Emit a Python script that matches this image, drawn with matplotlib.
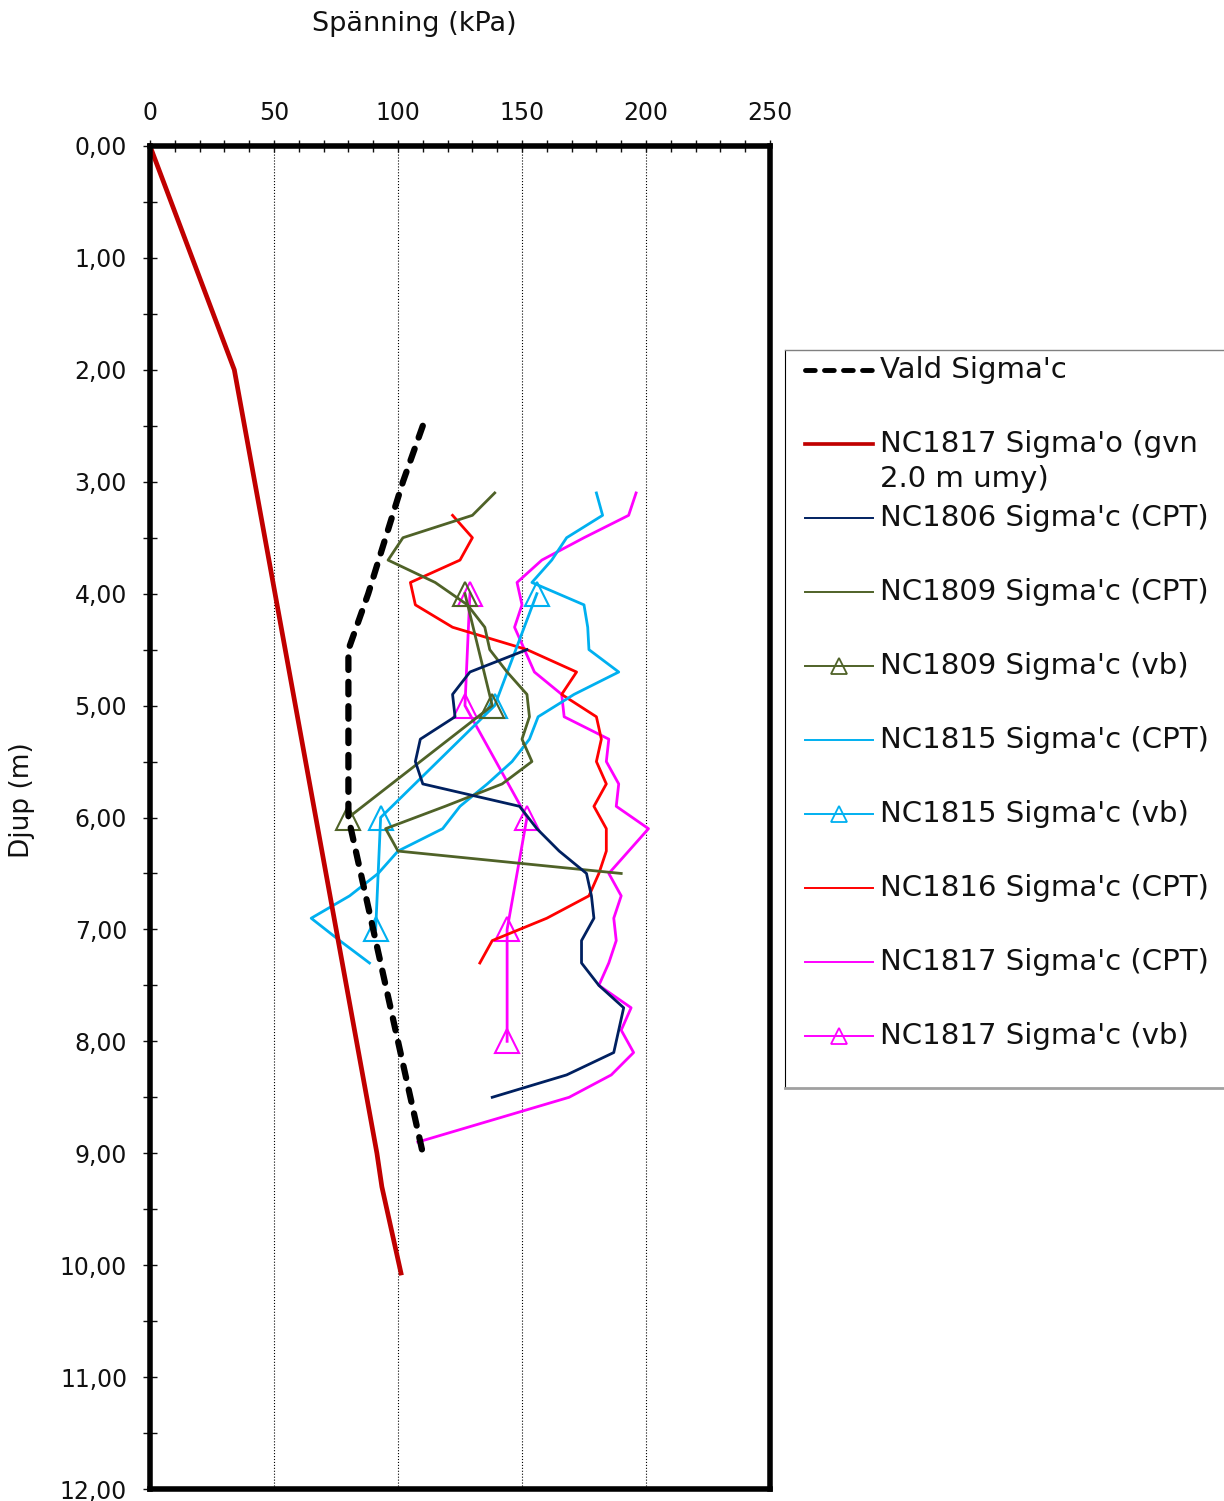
import matplotlib.pyplot as plt
from matplotlib.ticker import MultipleLocator, FuncFormatter

# depth (m) / stress (kPa) for each profile
vald_depth = [2.5, 3.0, 3.5, 4.0, 4.5, 5.0, 5.5, 6.0, 7.0, 8.0, 9.0]
vald_kpa = [110, 102, 95, 88, 80, 80, 80, 80, 90, 100, 110]

sigma_o_depth = [0.0, 2.0, 9.0, 9.3, 10.07]
sigma_o_kpa = [0, 34, 91.5, 93.5, 101.2]

nc1806_depth = [4.5, 4.7, 4.9, 5.1, 5.3, 5.5, 5.7, 5.9, 6.1, 6.3, 6.5,
                6.7, 6.9, 7.1, 7.3, 7.5, 7.7, 7.9, 8.1, 8.3, 8.5]
nc1806_kpa = [152, 129, 122, 123, 109, 107, 110, 149, 156, 165, 176,
              178, 179, 174, 174, 181, 191, 189, 187, 168, 138]

nc1809_depth = [3.1, 3.3, 3.5, 3.7, 3.9, 4.1, 4.3, 4.5, 4.7, 4.9, 5.1,
                5.3, 5.5, 5.7, 5.9, 6.1, 6.3, 6.5]
nc1809_kpa = [139, 130, 102, 96, 115, 128, 135, 137, 144, 152, 153,
              150, 154, 142, 119, 95, 100, 190]

nc1809_vb_depth = [4.0, 5.0, 6.0]
nc1809_vb_kpa = [127, 138, 80]

nc1815_depth = [3.1, 3.3, 3.5, 3.7, 3.9, 4.1, 4.3, 4.5, 4.7, 4.9, 5.1,
                5.3, 5.5, 5.7, 5.9, 6.1, 6.3, 6.5, 6.7, 6.9, 7.1, 7.3]
nc1815_kpa = [180, 182.5, 168, 162, 154, 175, 176.5, 177, 189, 171, 156.5,
              153, 146, 136, 125, 118, 100, 92, 80.5, 65, 76.5, 88.5]

nc1815_vb_depth = [4.0, 5.0, 6.0, 7.0]
nc1815_vb_kpa = [156, 139, 93, 91]

nc1816_depth = [3.3, 3.5, 3.7, 3.9, 4.1, 4.3, 4.5, 4.7, 4.9, 5.1, 5.3,
                5.5, 5.7, 5.9, 6.1, 6.3, 6.5, 6.7, 6.9, 7.1, 7.3]
nc1816_kpa = [122, 130, 125, 105, 107, 122, 152, 172, 166, 180, 182,
              180, 184, 179, 184, 184, 181, 177, 160, 138, 133]

nc1817_depth = [3.1, 3.3, 3.5, 3.7, 3.9, 4.1, 4.3, 4.5, 4.7, 4.9, 5.1,
                5.3, 5.5, 5.7, 5.9, 6.1, 6.3, 6.5, 6.7, 6.9, 7.1, 7.3,
                7.5, 7.7, 7.9, 8.1, 8.3, 8.5, 8.7, 8.9]
nc1817_kpa = [196, 193, 175, 158, 148, 150, 147, 151, 155, 166, 167,
              185, 184, 189, 188, 201, 193, 185, 190, 187, 188, 185,
              181, 194, 190, 195, 186, 169, 138.5, 108]

nc1817_vb_depth = [4.0, 5.0, 6.0, 7.0, 8.0]
nc1817_vb_kpa = [129, 127, 152, 144, 144]

NAVY = "#002060"
OLIVE = "#4F6228"
CYAN = "#00B0F0"
RED = "#FF0000"
MAGENTA = "#FF00FF"
DARKRED = "#C00000"

THIN = 2.0

series = [
    ("Vald Sigma'c", vald_depth, vald_kpa,
     dict(color="black", lw=4.5, dashes=(2.0, 1.9), dash_capstyle="round")),
    ("NC1817 Sigma'o (gvn\n2.0 m umy)", sigma_o_depth, sigma_o_kpa,
     dict(color=DARKRED, lw=3.4)),
    ("NC1806 Sigma'c (CPT)", nc1806_depth, nc1806_kpa, dict(color=NAVY, lw=THIN)),
    ("NC1809 Sigma'c (CPT)", nc1809_depth, nc1809_kpa, dict(color=OLIVE, lw=THIN)),
    ("NC1809 Sigma'c (vb)", nc1809_vb_depth, nc1809_vb_kpa,
     dict(color=OLIVE, lw=THIN, marker="^", ms=17, mfc="none", mew=1.5)),
    ("NC1815 Sigma'c (CPT)", nc1815_depth, nc1815_kpa, dict(color=CYAN, lw=THIN)),
    ("NC1815 Sigma'c (vb)", nc1815_vb_depth, nc1815_vb_kpa,
     dict(color=CYAN, lw=THIN, marker="^", ms=17, mfc="none", mew=1.5)),
    ("NC1816 Sigma'c (CPT)", nc1816_depth, nc1816_kpa, dict(color=RED, lw=THIN)),
    ("NC1817 Sigma'c (CPT)", nc1817_depth, nc1817_kpa, dict(color=MAGENTA, lw=THIN)),
    ("NC1817 Sigma'c (vb)", nc1817_vb_depth, nc1817_vb_kpa,
     dict(color=MAGENTA, lw=THIN, marker="^", ms=17, mfc="none", mew=1.5)),
]

W, H = 1224, 1501
fig = plt.figure(figsize=(W / 100, H / 100), dpi=100)
ax = fig.add_axes([150 / W, 12 / H, 620 / W, 1343 / H])

# draw in reverse so the chosen line ends up on top
for label, depth, kpa, style in reversed(series):
    ax.plot(kpa, depth, clip_on=False, zorder=3, **style)

ax.set_xlim(0, 250)
ax.set_ylim(12, 0)

ax.xaxis.tick_top()
ax.xaxis.set_major_locator(MultipleLocator(50))
ax.xaxis.set_minor_locator(MultipleLocator(10))
ax.yaxis.set_major_locator(MultipleLocator(1))
ax.yaxis.set_minor_locator(MultipleLocator(0.5))
ax.yaxis.set_major_formatter(FuncFormatter(lambda v, p: f"{v:.2f}".replace(".", ",")))

ax.tick_params(axis="x", which="both", direction="inout", length=9, width=1,
               top=True, bottom=False, labelsize=17, pad=10.5, colors="#111111")
ax.tick_params(axis="y", which="both", direction="inout", length=10, width=1,
               left=True, right=False, labelsize=17, pad=11.5, colors="#111111")

for s in ax.spines.values():
    s.set_linewidth(4)
    s.set_color("black")
    s.set_zorder(5)

ax.grid(axis="x", which="major", color="black", lw=0.8, ls=":")

fig.text(414 / W, 1 - 24 / H, "Spänning (kPa)", ha="center", va="center",
         fontsize=19.5, color="#111111")
fig.text(22 / W, 1 - 800 / H, "Djup (m)", ha="center", va="center",
         rotation=90, fontsize=19, color="#111111")

# legend box, laid out in pixel units
lx0, ly0, ly1 = 785, 350, 1088
leg = fig.add_axes([lx0 / W, (H - ly1) / H, (W - lx0 + 20) / W, (ly1 - ly0) / H])
leg.set_xlim(0, W - lx0 + 20)
leg.set_ylim(ly1 - ly0, 0)
leg.set_xticks([])
leg.set_yticks([])
leg.spines["right"].set_visible(False)
leg.spines["left"].set_color("black")
leg.spines["left"].set_linewidth(0.8)
leg.spines["top"].set_color("#808080")
leg.spines["top"].set_linewidth(1)
leg.spines["bottom"].set_color("#a0a0a0")
leg.spines["bottom"].set_linewidth(2)

row = 74
for i, (label, depth, kpa, style) in enumerate(series):
    y = 20 + row * i
    st = dict(style)
    st["lw"] = st["lw"] * 0.7 if st["lw"] < 3 else st["lw"] * 0.78
    if "marker" in st:
        st.pop("marker")
        leg.plot([54], [y], marker="^", ms=11.5, mfc="none", mew=1.3,
                 color=st["color"], ls="none")
        st.pop("ms"); st.pop("mfc"); st.pop("mew")
    leg.plot([20, 88], [y, y], **st)
    for k, line in enumerate(label.split("\n")):
        leg.text(95, y + 35 * k, line, ha="left", va="center",
                 fontsize=21, color="#111111")

fig.savefig("out.png", dpi=100)
